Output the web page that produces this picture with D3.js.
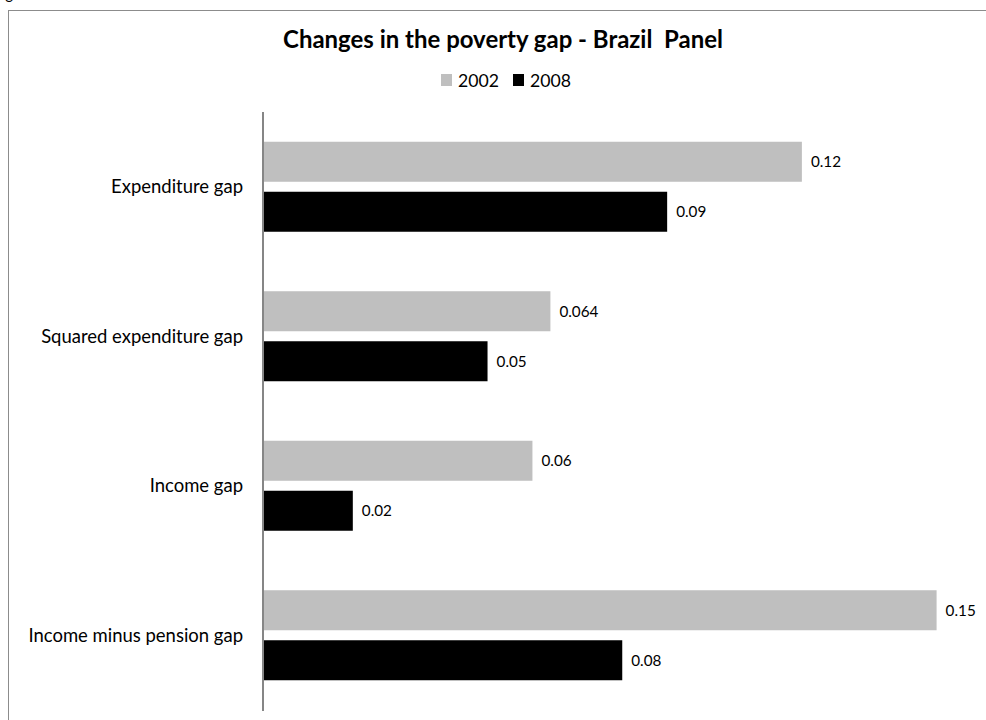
<!DOCTYPE html>
<html>
<head>
<meta charset="utf-8">
<script src="https://cdn.jsdelivr.net/npm/d3@7"></script>
<style>
  html, body { margin: 0; padding: 0; background: #fff; }
  svg { display: block; font-family: Lato, "Open Sans", sans-serif; }
</style>
</head>
<body>
<svg id="chart" width="986" height="720"></svg>
<script>
const categories = ["Expenditure gap", "Squared expenditure gap", "Income gap", "Income minus pension gap"];
const seriesNames = ["2002", "2008"];
const values2002 = [0.12, 0.064, 0.06, 0.15];
const values2008 = [0.09, 0.05, 0.02, 0.08];
const valueLabels2002 = ["0.12", "0.064", "0.06", "0.15"];
const valueLabels2008 = ["0.09", "0.05", "0.02", "0.08"];
const colors = ["#bfbfbf", "#000000"];
const titleText = "Changes in the poverty gap - Brazil  Panel";

const svg = d3.select("#chart");

function fitFont(sel, target, start) {
  sel.style("font-size", start + "px");
  const w = sel.node().getComputedTextLength();
  const fs = start * target / w;
  sel.style("font-size", fs + "px");
  return fs;
}

// Outer border (chart area extends beyond the picture)
svg.append("rect")
  .attr("x", 8.5).attr("y", 10.5)
  .attr("width", 1000).attr("height", 800)
  .attr("fill", "none").attr("stroke", "#8c8c8c").attr("stroke-width", 1);

// cut-off caption above the chart (only its descender is visible)
svg.append("text").attr("x", 13).attr("y", -1).attr("text-anchor", "end")
  .style("font-size", "15px").attr("fill", "#000").text("Fig");

const x = d3.scaleLinear().domain([0, 0.16]).range([263, 981.5]);
const y = d3.scaleBand().domain(categories).range([112, 710]).padding(0);
const yInner = d3.scaleBand().domain(seriesNames).range([0, y.step()])
  .paddingInner(0.2).paddingOuter(0.595);

const data = categories.map((c, i) => ({
  cat: c,
  vals: [
    { s: seriesNames[0], v: values2002[i], label: valueLabels2002[i], color: colors[0] },
    { s: seriesNames[1], v: values2008[i], label: valueLabels2008[i], color: colors[1] }
  ]
}));

const groups = svg.append("g").selectAll("g").data(data).join("g")
  .attr("transform", d => `translate(0,${y(d.cat)})`);

groups.selectAll("rect").data(d => d.vals).join("rect")
  .attr("x", x(0))
  .attr("y", d => yInner(d.s))
  .attr("width", d => x(d.v) - x(0))
  .attr("height", yInner.bandwidth())
  .attr("fill", d => d.color);

const valTexts = groups.selectAll("text.val").data(d => d.vals).join("text")
  .attr("class", "val")
  .attr("x", d => x(d.v) + 9)
  .attr("y", d => yInner(d.s) + yInner.bandwidth() / 2)
  .attr("dy", "0.35em")
  .attr("fill", "#000")
  .text(d => d.label);
const refVal = valTexts.filter(d => d.label === "0.064");
const vfs = fitFont(refVal, 39, 13);
valTexts.style("font-size", vfs + "px");

// Axis (left category axis)
const yAxis = d3.axisLeft(y).tickSize(0).tickPadding(20);
const axG = svg.append("g").attr("transform", `translate(${x(0)},0)`).call(yAxis);
axG.attr("font-family", null).attr("font-size", null);
axG.select(".domain").attr("stroke", "#868686").attr("stroke-width", 2).attr("d", `M0,112V711`);
const catTexts = axG.selectAll(".tick text").attr("fill", "#000");
const refCat = catTexts.filter(d => d === "Expenditure gap");
const cfs = fitFont(refCat, 132, 15);
catTexts.style("font-size", cfs + "px").attr("dy", "0.35em");

// Title
const title = svg.append("text")
  .attr("x", 503).attr("y", 48)
  .attr("text-anchor", "middle")
  .attr("font-weight", "bold")
  .attr("fill", "#000")
  .style("white-space", "pre")
  .text(titleText);
fitFont(title, 440, 20);

// Legend
const legend = svg.append("g");
const legX = [441, 513];
let lfs = null;
seriesNames.forEach((s, i) => {
  legend.append("rect").attr("x", legX[i]).attr("y", 74).attr("width", 11).attr("height", 12).attr("fill", colors[i]);
  const t = legend.append("text").attr("x", legX[i] + 17).attr("y", 86.5).attr("fill", "#000").text(s);
  if (lfs === null) lfs = fitFont(t, 41, 16); else t.style("font-size", lfs + "px");
});
</script>
</body>
</html>
